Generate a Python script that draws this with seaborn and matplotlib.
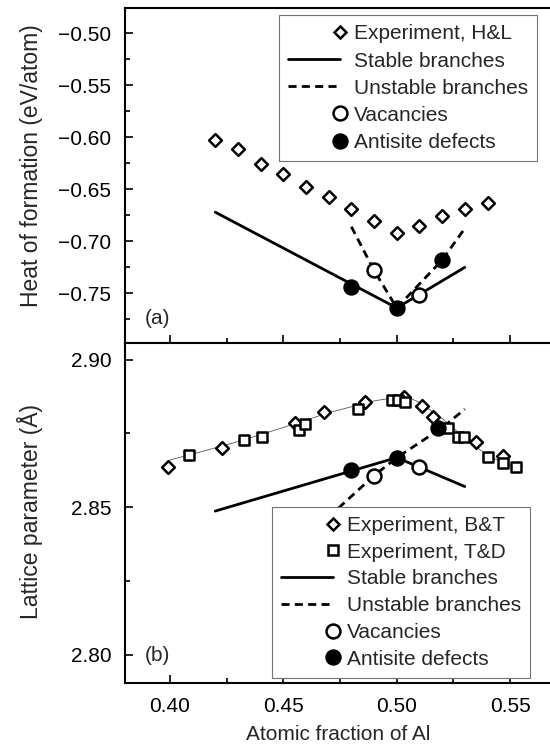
import numpy as np
import matplotlib
matplotlib.use('Agg')
import matplotlib.pyplot as plt
import seaborn as sns
from matplotlib.lines import Line2D
from matplotlib.legend_handler import HandlerLine2D
from matplotlib.ticker import MultipleLocator, FuncFormatter

# ---- panel (a): heat of formation ----
hl_x = [0.42, 0.43, 0.44, 0.45, 0.46, 0.47, 0.48, 0.49, 0.50, 0.51, 0.52, 0.53, 0.54]
hl_y = [-0.603, -0.611, -0.626, -0.635, -0.648, -0.657, -0.669, -0.680, -0.692,
        -0.685, -0.676, -0.669, -0.663]
a_stable_x = [0.42, 0.50, 0.53]
a_stable_y = [-0.672, -0.764, -0.725]
a_unstable_x = [0.48, 0.49, 0.50, 0.52, 0.53]
a_unstable_y = [-0.686, -0.728, -0.764, -0.718, -0.6875]
a_vac_x = [0.49, 0.51]
a_vac_y = [-0.728, -0.752]
a_anti_x = [0.48, 0.50, 0.52]
a_anti_y = [-0.744, -0.764, -0.718]

# ---- panel (b): lattice parameter ----
bt_x = [0.399, 0.423, 0.455, 0.468, 0.486, 0.503, 0.511, 0.516, 0.535, 0.547]
bt_y = [2.8637, 2.8702, 2.8784, 2.8824, 2.8857, 2.8874, 2.8844, 2.8807, 2.8722, 2.8674]
td_x = [0.4085, 0.4328, 0.4405, 0.4571, 0.4596, 0.4831, 0.4978, 0.5007, 0.5037,
        0.5228, 0.5272, 0.5297, 0.540, 0.547, 0.5525]
td_y = [2.8677, 2.8728, 2.8737, 2.8762, 2.8782, 2.8833, 2.8863, 2.8863, 2.8857,
        2.8769, 2.8739, 2.8739, 2.8669, 2.8650, 2.8635]
fit_x = [0.40, 0.41, 0.43, 0.45, 0.47, 0.49, 0.50, 0.505, 0.51, 0.52, 0.53, 0.54, 0.55]
fit_y = [2.8660, 2.8680, 2.8722, 2.8770, 2.8820, 2.8860, 2.8872, 2.8872, 2.8855,
         2.8800, 2.8735, 2.8675, 2.8640]
b_stable_x = [0.42, 0.50, 0.53]
b_stable_y = [2.8487, 2.8668, 2.857]
b_unstable_x = [0.47, 0.49, 0.50, 0.52, 0.53]
b_unstable_y = [2.8467, 2.8607, 2.8668, 2.8769, 2.8832]
b_vac_x = [0.49, 0.51]
b_vac_y = [2.8607, 2.8637]
b_anti_x = [0.48, 0.50, 0.518]
b_anti_y = [2.8626, 2.8668, 2.8769]

FS = 15
LW = 2.0
DASH = (0, (2.9, 1.9))
MEW = 1.8
MS_D = 6.5   # diamonds
MS_S = 6.6   # squares
MS_O = 10.0  # circles

sns.set_theme(style='ticks')
plt.rcParams['font.family'] = ['Liberation Sans', 'DejaVu Sans']
plt.rcParams.update({
    'font.size': FS, 'axes.labelsize': FS, 'xtick.labelsize': FS,
    'ytick.labelsize': FS, 'legend.fontsize': FS,
    'axes.linewidth': 1.5, 'axes.edgecolor': 'black',
    'xtick.color': 'black', 'ytick.color': 'black',
    'xtick.direction': 'in', 'ytick.direction': 'in',
})


class MarkerRight(HandlerLine2D):
    """legend marker drawn at the right end of the handle"""
    def create_artists(self, legend, orig_handle, xdescent, ydescent,
                       width, height, fontsize, trans):
        x = width - xdescent - 0.02 * fontsize
        y = (height - ydescent) / 2
        mk = Line2D([x], [y])
        self.update_prop(mk, orig_handle, legend)
        mk.set_linestyle('none')
        mk.set_transform(trans)
        return [mk]


def line(ax, x, y, ls='-', lw=LW, color='black', z=2):
    sns.lineplot(x=x, y=y, ax=ax, color=color, lw=lw, linestyle=ls,
                 sort=False, estimator=None, legend=False, zorder=z)


def marks(ax, x, y, marker, ms, fill):
    sns.scatterplot(x=x, y=y, ax=ax, marker=marker, s=ms ** 2, color=fill,
                    edgecolor='black', linewidth=MEW, zorder=4, legend=False)


def mhandle(marker, ms, fill):
    return Line2D([], [], ls='none', marker=marker, ms=ms, mfc=fill,
                  mec='black', mew=MEW)


def style_axes(ax, ylim, ylabel, label_y):
    ax.set_xlim(0.38, 0.568)
    ax.set_ylim(*ylim)
    ax.xaxis.set_major_locator(MultipleLocator(0.05))
    ax.xaxis.set_minor_locator(MultipleLocator(0.025))
    ax.yaxis.set_major_locator(MultipleLocator(0.05))
    ax.yaxis.set_minor_locator(MultipleLocator(0.025))
    fmt = FuncFormatter(lambda v, p: f'{v:.2f}'.replace('-', '\u2212'))
    ax.xaxis.set_major_formatter(fmt)
    ax.yaxis.set_major_formatter(fmt)
    ax.tick_params(which='major', length=5.5, width=1.2)
    ax.tick_params(which='minor', length=3.5, width=1.2)
    ax.tick_params(axis='y', which='both', pad=9.5, left=True, right=False)
    ax.tick_params(axis='x', which='both', pad=10, top=False)
    ax.spines['right'].set_visible(False)
    ax.set_ylabel(ylabel, fontsize=16.5)
    # set_ylabel resets the position, so place it afterwards
    ax.yaxis.set_label_coords(-0.19, label_y)


def add_legend(ax, handles, labels, anchor, marker_handles, spacing):
    hmap = {h: MarkerRight() for h in marker_handles}
    leg = ax.legend(handles, labels, loc='upper left', bbox_to_anchor=anchor,
                    borderaxespad=0, handlelength=2.5, handletextpad=0.65,
                    labelspacing=spacing, borderpad=0.45, frameon=True,
                    fancybox=False, edgecolor='0.45', framealpha=1,
                    handler_map=hmap)
    leg.get_frame().set_linewidth(0.8)
    leg.set_zorder(10)
    return leg


fig = plt.figure(figsize=(5.5, 7.44), dpi=100)
ax1 = fig.add_axes([0.2264, 0.5386, 0.7755, 0.4507])
ax2 = fig.add_axes([0.2264, 0.0816, 0.7755, 0.4570])

# (a)
line(ax1, a_stable_x, a_stable_y)
line(ax1, a_unstable_x, a_unstable_y, ls=DASH)
marks(ax1, hl_x, hl_y, 'D', MS_D, 'white')
marks(ax1, a_vac_x, a_vac_y, 'o', MS_O, 'white')
marks(ax1, a_anti_x, a_anti_y, 'o', MS_O, 'black')
style_axes(ax1, (-0.798, -0.4757), 'Heat of formation (eV/atom)', 0.529)
ax1.tick_params(axis='x', labelbottom=False)
ax1.set_xlabel('')
ax1.text(0.3946, -0.774, '(a)', ha='center', va='center', fontsize=FS)

h_d = mhandle('D', MS_D, 'white')
h_vac = mhandle('o', MS_O, 'white')
h_anti = mhandle('o', MS_O, 'black')
h_st = Line2D([], [], color='black', lw=LW)
h_un = Line2D([], [], color='black', lw=LW, ls=DASH)
add_legend(ax1, [h_d, h_st, h_un, h_vac, h_anti],
           ['Experiment, H&L', 'Stable branches', 'Unstable branches',
            'Vacancies', 'Antisite defects'],
           (0.3616, 0.979), [h_d, h_vac, h_anti], 0.39)

# (b)
line(ax2, fit_x, fit_y, lw=0.6, color='0.35', z=1.5)
line(ax2, b_stable_x, b_stable_y)
line(ax2, b_unstable_x, b_unstable_y, ls=DASH)
marks(ax2, bt_x, bt_y, 'D', MS_D, 'white')
marks(ax2, td_x, td_y, 's', MS_S, 'white')
marks(ax2, b_vac_x, b_vac_y, 'o', MS_O, 'white')
marks(ax2, b_anti_x, b_anti_y, 'o', MS_O, 'black')
style_axes(ax2, (2.7904, 2.9055), 'Lattice parameter (\u00c5)', 0.504)
ax2.set_xlabel('Atomic fraction of Al', labelpad=6.5)
ax2.text(0.3946, 2.7997, '(b)', ha='center', va='center', fontsize=FS)

h_d2 = mhandle('D', MS_D, 'white')
h_sq = mhandle('s', MS_S, 'white')
h_vac2 = mhandle('o', MS_O, 'white')
h_anti2 = mhandle('o', MS_O, 'black')
add_legend(ax2, [h_d2, h_sq, h_st, h_un, h_vac2, h_anti2],
           ['Experiment, B&T', 'Experiment, T&D', 'Stable branches',
            'Unstable branches', 'Vacancies', 'Antisite defects'],
           (0.345, 0.5194), [h_d2, h_sq, h_vac2, h_anti2], 0.37)

fig.savefig('out.png', dpi=100)
